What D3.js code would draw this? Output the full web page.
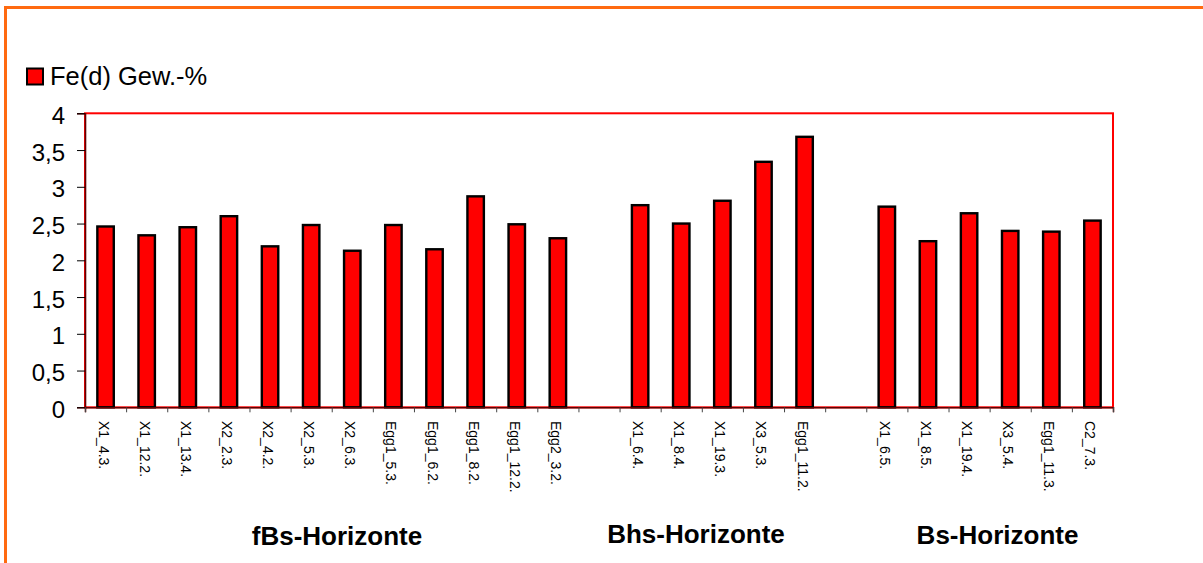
<!DOCTYPE html>
<html>
<head>
<meta charset="utf-8">
<script src="https://cdn.jsdelivr.net/npm/d3@7"></script>
<style>
  html, body { margin: 0; padding: 0; background: #fff; }
  svg { display: block; font-family: Arial, "Liberation Sans", sans-serif; }
</style>
</head>
<body>
<svg id="chart" width="1203" height="563"></svg>
<script>
// Sample names and Fe(d) contents (weight-%) per horizon group
const groupNames = ["fBs-Horizonte", "Bhs-Horizonte", "Bs-Horizonte"];

const fBsSamples = ["X1_4.3.", "X1_12.2.", "X1_13.4.", "X2_2.3.", "X2_4.2.", "X2_5.3.",
                    "X2_6.3.", "Egg1_5.3.", "Egg1_6.2.", "Egg1_8.2.", "Egg1_12.2.", "Egg2_3.2."];
const fBsValues  = [2.46, 2.34, 2.45, 2.60, 2.19, 2.48, 2.13, 2.48, 2.15, 2.87, 2.49, 2.30];

const bhsSamples = ["X1_6.4.", "X1_8.4.", "X1_19.3.", "X3_5.3.", "Egg1_11.2."];
const bhsValues  = [2.75, 2.50, 2.81, 3.34, 3.68];

const bsSamples  = ["X1_6.5.", "X1_8.5.", "X1_19.4.", "X3_5.4.", "Egg1_11.3.", "C2_7.3."];
const bsValues   = [2.73, 2.26, 2.64, 2.40, 2.39, 2.54];

const yTicks = [0, 0.5, 1, 1.5, 2, 2.5, 3, 3.5, 4];
const seriesName = "Fe(d) Gew.-%";

// Build the category sequence: each group followed by one empty slot
const groups = [
  { name: groupNames[0], samples: fBsSamples, values: fBsValues },
  { name: groupNames[1], samples: bhsSamples, values: bhsValues },
  { name: groupNames[2], samples: bsSamples,  values: bsValues }
];
const slots = [];
const bars = [];
groups.forEach((g, gi) => {
  g.samples.forEach((s, i) => {
    const key = g.name + "|" + s;
    slots.push({ key, label: s });
    bars.push({ key, label: s, value: g.values[i] });
  });
  if (gi < groups.length - 1) slots.push({ key: "gap" + gi, label: "" });
});

const svg = d3.select("#chart");
const plot = { left: 85, right: 1113, top: 113.3, bottom: 407.3 };

const x = d3.scaleBand()
  .domain(slots.map(d => d.key))
  .range([plot.left, plot.right])
  .paddingInner(0.6)
  .paddingOuter(0.3);

const slotEdge = d3.scaleLinear()
  .domain([0, slots.length])
  .range([plot.left, plot.right]);

const y = d3.scaleLinear()
  .domain([0, 4])
  .range([plot.bottom, plot.top]);

// Outer frame (only the top and left edges fall inside the view)
svg.append("rect")
  .attr("x", 5.5).attr("y", 7.5)
  .attr("width", 1400).attr("height", 800)
  .attr("fill", "none")
  .attr("stroke", "#ff6a10")
  .attr("stroke-width", 3);

// Plot area border
svg.append("rect")
  .attr("x", plot.left).attr("y", plot.top)
  .attr("width", plot.right - plot.left)
  .attr("height", plot.bottom - plot.top)
  .attr("fill", "#fff")
  .attr("stroke", "#ff0000")
  .attr("stroke-width", 2);

// Bars
svg.append("g")
  .selectAll("rect")
  .data(bars)
  .join("rect")
  .attr("x", d => x(d.key))
  .attr("y", d => y(d.value))
  .attr("width", x.bandwidth())
  .attr("height", d => y(0) - y(d.value))
  .attr("fill", "#ff0000")
  .attr("stroke", "#000")
  .attr("stroke-width", 2.4);

// Y axis
const yAxis = svg.append("g")
  .attr("transform", `translate(${plot.left},0)`)
  .call(d3.axisLeft(y)
    .tickValues(yTicks)
    .tickSize(8)
    .tickPadding(12)
    .tickFormat(d => String(d).replace(".", ",")));
yAxis.select(".domain").attr("stroke", "#600000").attr("stroke-width", 1.6);
yAxis.selectAll(".tick line").attr("stroke", "#000");
yAxis.selectAll(".tick text")
  .attr("font-size", 24)
  .attr("fill", "#000")
  .attr("dy", "0.42em")
  .attr("font-family", "Arial, 'Liberation Sans', sans-serif");

// X axis: ticks on slot boundaries
const xAxis = svg.append("g")
  .attr("transform", `translate(0,${plot.bottom})`)
  .call(d3.axisBottom(slotEdge)
    .tickValues(d3.range(0, slots.length + 1))
    .tickSize(5)
    .tickFormat(""));
xAxis.select(".domain").attr("stroke", "#600000").attr("stroke-width", 1.6);
xAxis.selectAll(".tick line").attr("stroke", "#444");

// Rotated sample labels
svg.append("g")
  .selectAll("text")
  .data(slots.filter(d => d.label))
  .join("text")
  .attr("transform", d => `translate(${x(d.key) + x.bandwidth() / 2},421) rotate(90)`)
  .attr("dy", "0.5em")
  .attr("font-size", 14)
  .attr("fill", "#000")
  .text(d => d.label);

// Group titles
const groupTitleX = [337, 696, 997.5];
const groupTitleY = [545, 543, 544];
svg.append("g")
  .selectAll("text")
  .data(groupNames)
  .join("text")
  .attr("x", (d, i) => groupTitleX[i])
  .attr("y", (d, i) => groupTitleY[i])
  .attr("text-anchor", "middle")
  .attr("font-size", 26)
  .attr("font-weight", "bold")
  .attr("fill", "#000")
  .text(d => d);

// Legend
const legend = svg.append("g");
legend.append("rect")
  .attr("x", 27).attr("y", 68.5)
  .attr("width", 16).attr("height", 16)
  .attr("fill", "#ff0000")
  .attr("stroke", "#000")
  .attr("stroke-width", 2);
legend.append("text")
  .attr("x", 50).attr("y", 85)
  .attr("font-size", 25.5)
  .attr("fill", "#000")
  .text(seriesName);
</script>
</body>
</html>
